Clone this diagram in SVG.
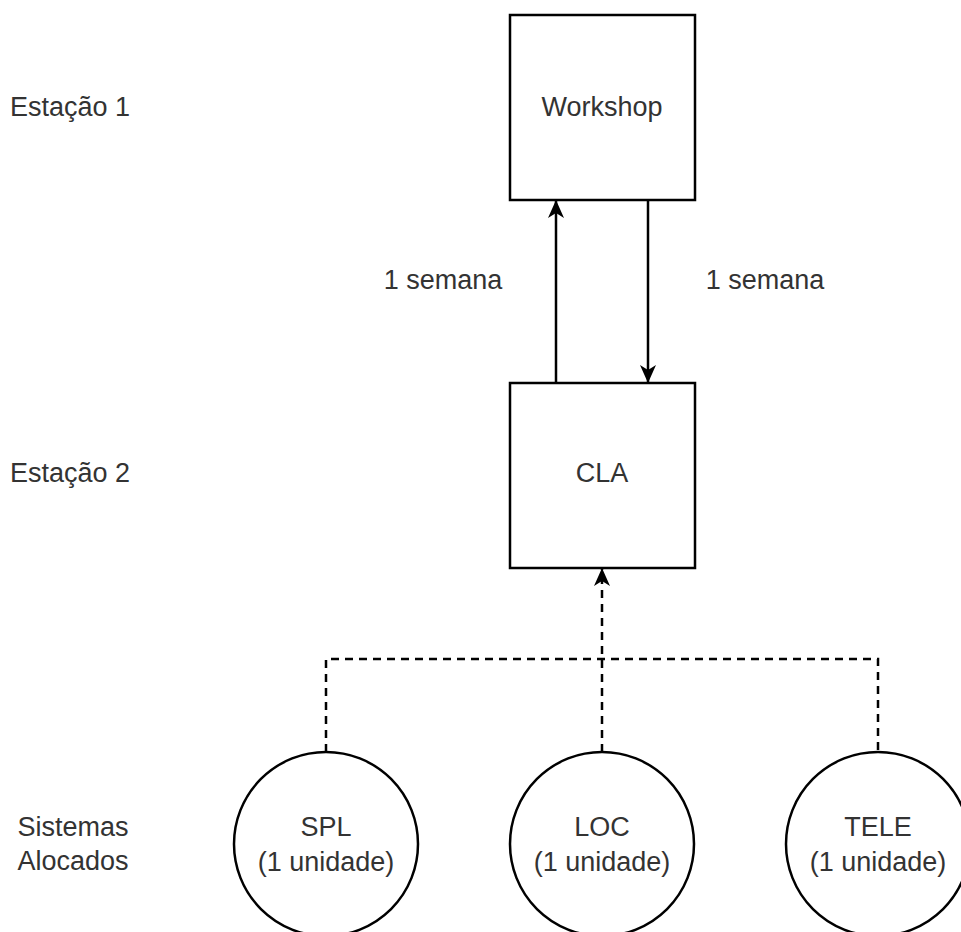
<svg xmlns="http://www.w3.org/2000/svg" width="961" height="932" viewBox="0 0 961 932">
<style>
.box{fill:#fff;stroke:#000;stroke-width:2.5}
.t{font-family:"Liberation Sans",Arial,sans-serif;font-size:27px;fill:#333}
.c{text-anchor:middle}
.ln{fill:none;stroke:#000;stroke-width:2.5}
.d{stroke-dasharray:8 6}
</style>
<defs>
<marker id="ah" viewBox="0 0 18 16" refX="17" refY="8" markerWidth="18" markerHeight="16" markerUnits="userSpaceOnUse" orient="auto">
<path d="M0,0 L18,8 L0,16 L5,8 Z" fill="#000"/>
</marker>
</defs>
<rect width="961" height="932" fill="#fff"/>
<g id="labels">
<text class="t" x="10" y="116">Estação 1</text>
<text class="t" x="10" y="482">Estação 2</text>
<text class="t c" x="73" y="836">Sistemas</text>
<text class="t c" x="73" y="870">Alocados</text>
</g>
<g id="connectors">
<line class="ln" x1="556" y1="383" x2="556" y2="201" marker-end="url(#ah)"/>
<line class="ln" x1="648" y1="200" x2="648" y2="382" marker-end="url(#ah)"/>
<text class="t c" x="443" y="289">1 semana</text>
<text class="t c" x="765" y="289">1 semana</text>
<polyline class="ln d" points="326,752 326,659 878,659 878,752"/>
<line class="ln d" x1="602" y1="752" x2="602" y2="569" marker-end="url(#ah)"/>
</g>
<g id="workshop">
<rect class="box" x="510" y="15" width="185" height="185"/>
<text class="t c" x="602" y="116">Workshop</text>
</g>
<g id="cla">
<rect class="box" x="510" y="383" width="185" height="185"/>
<text class="t c" x="602" y="482">CLA</text>
</g>
<g id="spl">
<circle class="box" cx="326" cy="844" r="92"/>
<text class="t c" x="326" y="836">SPL</text>
<text class="t c" x="326" y="871">(1 unidade)</text>
</g>
<g id="loc">
<circle class="box" cx="602" cy="844" r="92"/>
<text class="t c" x="602" y="836">LOC</text>
<text class="t c" x="602" y="871">(1 unidade)</text>
</g>
<g id="tele">
<circle class="box" cx="878" cy="844" r="92"/>
<text class="t c" x="878" y="836">TELE</text>
<text class="t c" x="878" y="871">(1 unidade)</text>
</g>
</svg>
